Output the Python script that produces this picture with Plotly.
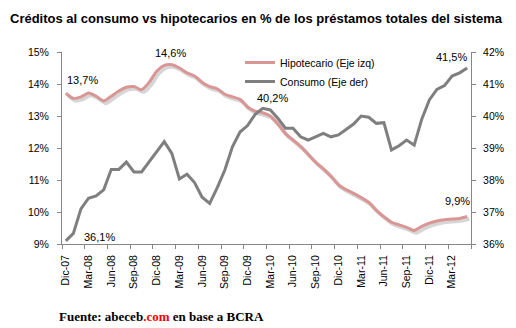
import plotly.graph_objects as go

# ---------------- data ----------------
month_names = ["Dic", "Ene", "Feb", "Mar", "Abr", "May", "Jun", "Jul", "Ago", "Sep", "Oct", "Nov"]
start_year = 7
n_months = 54
categories = []
for i in range(n_months):
    mi = i % 12
    yr = start_year + (i + 11) // 12
    categories.append(f"{month_names[mi]}-{yr:02d}")

hipotecario = [
    13.71, 13.55, 13.60, 13.72, 13.62, 13.47, 13.62, 13.78, 13.90, 13.92,
    13.82, 14.05, 14.40, 14.58, 14.60, 14.50, 14.35, 14.25, 14.05, 13.92,
    13.85, 13.68, 13.60, 13.52, 13.28, 13.15, 13.10, 13.00, 12.75, 12.45,
    12.25, 12.05, 11.80, 11.55, 11.35, 11.12, 10.85, 10.70, 10.58, 10.45,
    10.30, 10.05, 9.85, 9.68, 9.60, 9.52, 9.42, 9.55, 9.65, 9.72,
    9.76, 9.78, 9.80, 9.86,
]
consumo = [
    36.10, 36.33, 37.10, 37.43, 37.50, 37.69, 38.33, 38.33, 38.56, 38.25,
    38.25, 38.57, 38.90, 39.20, 38.83, 38.03, 38.18, 37.92, 37.46, 37.27,
    37.76, 38.31, 39.04, 39.50, 39.70, 40.05, 40.24, 40.19, 39.93, 39.62,
    39.62, 39.35, 39.25, 39.35, 39.46, 39.35, 39.41, 39.58, 39.75, 40.00,
    39.96, 39.77, 39.79, 38.94, 39.07, 39.25, 39.09, 39.90, 40.50, 40.83,
    40.95, 41.25, 41.35, 41.50,
]
tick_idx = list(range(0, n_months, 3))
tick_labels = [categories[i] for i in tick_idx]
left_ticks = [9, 10, 11, 12, 13, 14, 15]
right_ticks = [36, 37, 38, 39, 40, 41, 42]

# ---------------- figure ----------------
x = list(range(n_months))
AX = "#868686"
FONT = "Liberation Sans"
FS = 10.5
fig = go.Figure()

# shadow of pink line (drawn on a hidden, slightly shifted base axis pair)
fig.add_trace(go.Scatter(x=x, y=hipotecario, mode="lines", xaxis="x", yaxis="y",
                         line=dict(color="rgba(0,0,0,0.16)", width=4, shape="spline", smoothing=0.6),
                         showlegend=False, hoverinfo="skip"))
fig.add_trace(go.Scatter(x=x, y=hipotecario, mode="lines", name="Hipotecario (Eje izq)",
                         xaxis="x2", yaxis="y2",
                         line=dict(color="#D99694", width=3, shape="spline", smoothing=0.6)))
fig.add_trace(go.Scatter(x=x, y=consumo, mode="lines", name="Consumo (Eje der)",
                         xaxis="x2", yaxis="y3",
                         line=dict(color="#7F7F7F", width=3)))

dx = 0.28
dy = 0.07
fig.update_layout(
    width=516, height=328, autosize=False,
    margin=dict(l=62, r=45, t=52, b=84),
    paper_bgcolor="white", plot_bgcolor="white",
    font=dict(family=FONT, size=FS, color="#000"),
    title=dict(text="Créditos al consumo vs hipotecarios en % de los préstamos totales del sistema",
               xref="container", yref="container", x=10 / 516, y=1 - 18 / 328,
               xanchor="left", yanchor="middle",
               font=dict(family="Liberation Sans", size=13, color="#000", weight="bold")),
    xaxis=dict(range=[-0.5 - dx, n_months - 0.5 - dx], visible=False, fixedrange=True),
    yaxis=dict(range=[9 + dy, 15 + dy], visible=False, fixedrange=True),
    xaxis2=dict(overlaying="x", range=[-0.5, n_months - 0.5], showline=True, linecolor=AX,
                linewidth=1, tickvals=tick_idx, ticktext=tick_labels, tickangle=-90,
                ticks="", showgrid=False, zeroline=False, ticklabelstandoff=6,
                tickfont=dict(size=FS, family=FONT),
                minor=dict(tickvals=[i - 0.5 for i in range(0, n_months + 1, 3)],
                           ticks="outside", ticklen=4, tickcolor=AX, showgrid=False)),
    yaxis2=dict(overlaying="y", side="left", range=[9, 15], tickvals=left_ticks,
                ticktext=[f"{v}%" for v in left_ticks], showline=True, linecolor=AX,
                ticks="outside", ticklen=4, tickcolor=AX, showgrid=False, zeroline=False,
                ticklabelstandoff=6, tickfont=dict(size=FS, family=FONT)),
    yaxis3=dict(overlaying="y", side="right", range=[36, 42], tickvals=right_ticks,
                ticktext=[f"{v}%" for v in right_ticks], showline=True, linecolor=AX,
                ticks="outside", ticklen=4, tickcolor=AX, showgrid=False, zeroline=False,
                ticklabelstandoff=5, tickfont=dict(size=FS, family=FONT)),
    legend=dict(x=(240 - 62) / 409, y=(244 - 48) / 192, xanchor="left", yanchor="top",
                bgcolor="rgba(0,0,0,0)", font=dict(size=FS, family=FONT),
                itemwidth=30, tracegroupgap=0),
    showlegend=True,
)


def fmt(v):
    return f"{v:.1f}".replace(".", ",") + "%"


imax = hipotecario.index(max(hipotecario))
gmax = consumo[:40].index(max(consumo[:40]))
labels = [
    (0, hipotecario[0], "x2", "y2", 17, 13),
    (imax, hipotecario[imax], "x2", "y2", -1, 12),
    (n_months - 1, hipotecario[-1], "x2", "y2", -10, 15),
    (0, consumo[0], "x2", "y3", 34, 4),
    (gmax, consumo[gmax], "x2", "y3", 10, 10),
    (n_months - 1, consumo[-1], "x2", "y3", -16, 11),
]
for xi, v, xr, yr, xs, ys in labels:
    fig.add_annotation(x=xi, y=v, xref=xr, yref=yr, text=fmt(v), showarrow=False,
                       xshift=xs, yshift=ys, font=dict(size=11, family=FONT, color="#000"))

fig.add_annotation(
    xref="paper", yref="paper", x=(161 - 62) / 409, y=(244 - 316) / 192,
    xanchor="center", yanchor="middle", showarrow=False,
    text="Fuente: abeceb<span style='color:#FF0000'>.com</span> en base a BCRA",
    font=dict(family="Liberation Serif", size=13, color="#000", weight="bold"),
)

fig.write_html("out.html")
